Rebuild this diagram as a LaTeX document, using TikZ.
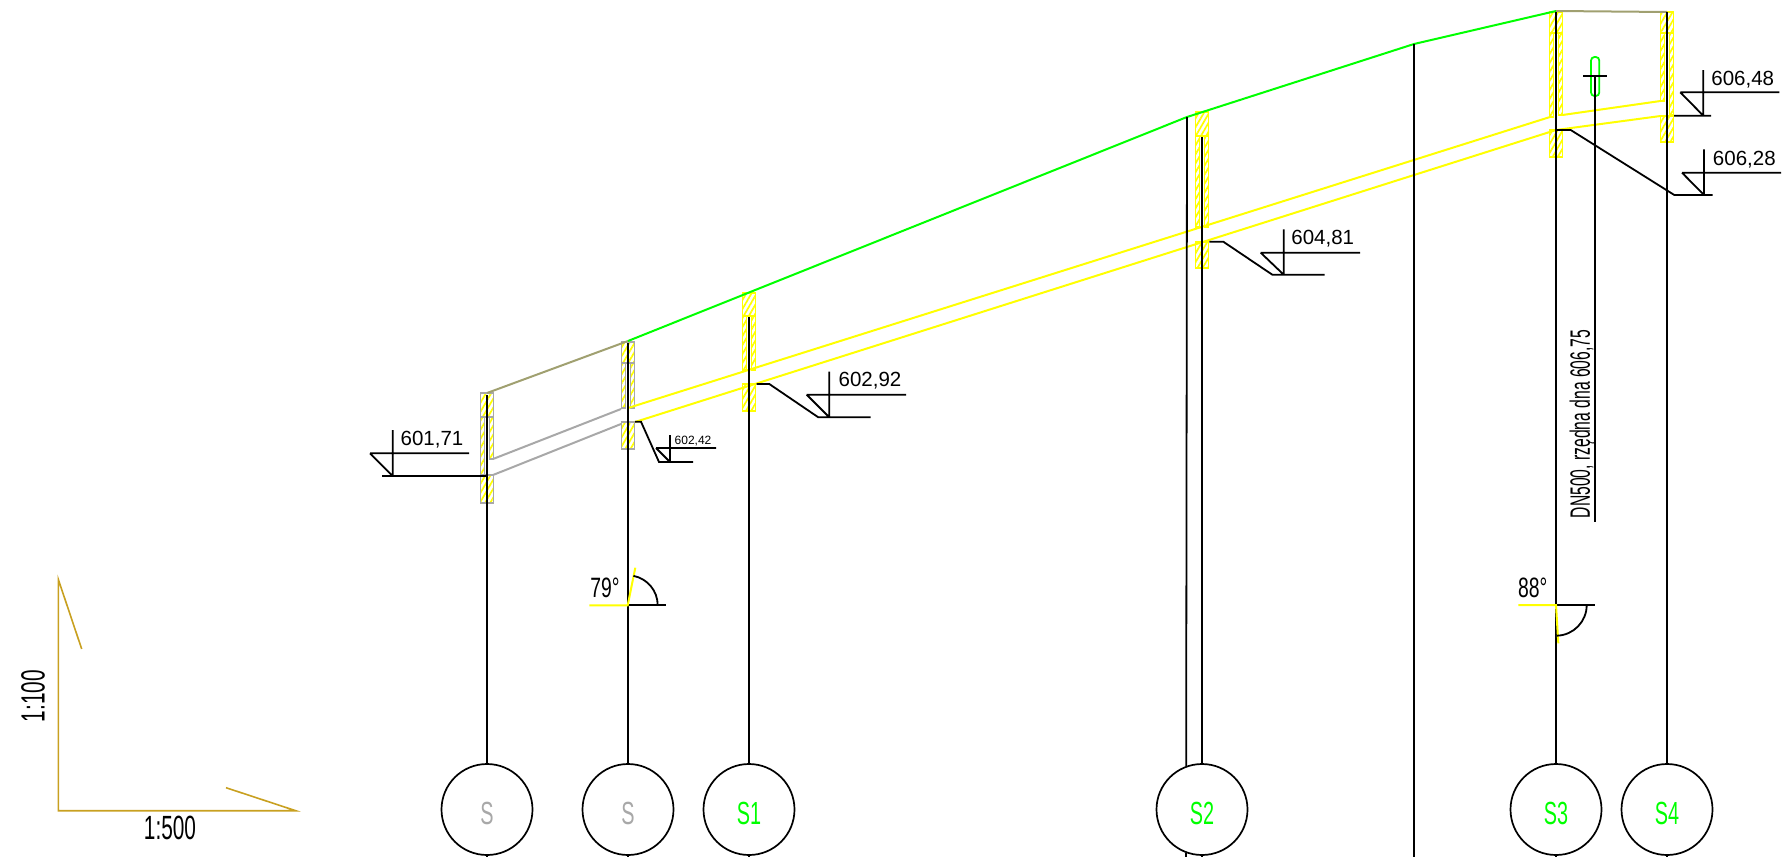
\documentclass[tikz,border=0pt]{standalone}
\usepackage{fontspec}
\setmainfont{Liberation Sans}
\usetikzlibrary{patterns.meta}
\definecolor{wellyellow}{RGB}{255,255,0}
\definecolor{wellgreen}{RGB}{0,255,0}
\definecolor{wellgray}{RGB}{168,168,168}
\definecolor{topolive}{RGB}{160,160,112}
\definecolor{axisgold}{RGB}{200,160,32}
\tikzset{hatch/.style={line width=1.8pt,pattern={Lines[angle=60,distance=4.5pt,line width=1.7pt]},pattern color=wellyellow},
         pipe/.style={line width=2pt},
         blk/.style={line width=1.8pt,black},
         welllabel/.style={draw=black,line width=1.7pt,circle,inner sep=0pt,minimum size=91pt},
         level/.style={font=\fontsize{20.5}{24}\selectfont,inner sep=0pt,text depth=0pt},
         tall/.style={font=\fontsize{#1}{#1}\selectfont,inner sep=0pt,text depth=0pt}}
% x top hatch-end left-end right-end low-top low-bottom colour
\newcommand{\wellcol}[8]{
  \draw[hatch,draw=#8] ({#1-6.5},#2) rectangle ({#1+6.5},#3);
  \draw[hatch,draw=#8] ({#1-6.5},#3) rectangle ({#1-2.5},#4);
  \draw[hatch,draw=#8] ({#1+2.5},#3) rectangle ({#1+6.5},#5);
  \draw[hatch,draw=#8] ({#1-6.5},#6) rectangle ({#1+6.5},#7);
}
\begin{document}
\begin{tikzpicture}[x=1pt,y=-1pt]
\useasboundingbox (0,0) rectangle (1783,857);
% columns
\wellcol{487}{393}{417}{475}{459}{475}{503}{wellgray}
\wellcol{628}{342}{363}{408}{408}{422}{449}{wellgray}
\wellcol{749}{293}{316}{370}{370}{384}{411}{wellyellow}
\wellcol{1202}{112}{136}{227}{227}{242}{268}{wellyellow}
\wellcol{1556}{12}{33}{117}{115}{130}{157}{wellyellow}
\wellcol{1667}{12}{33}{101}{115}{116}{142}{wellyellow}
% sewer
\draw[pipe,wellgray] (493,459) -- (621,409) (493,475) -- (621,424);
\draw[pipe,wellyellow] (628,408) -- (1550,117) (1562.5,115) -- (1660.5,101);
\draw[pipe,wellyellow] (635,422) -- (1556,130) -- (1660.5,116);
% terrain
\draw[pipe,topolive] (487,393) -- (628,341);
\draw[pipe,wellgreen] (628,341) -- (1187,117) -- (1414,44) -- (1556,11);
\draw[pipe,topolive] (1556,11) -- (1667,12);
% wells
\foreach \cname/\cx/\ctext/\ccol in {a/487/S/wellgray,b/628/S/wellgray,c/749/S1/wellgreen,d/1202/S2/wellgreen,e/1556/S3/wellgreen,f/1667/S4/wellgreen}{
  \node[welllabel] (\cname) at (\cx,809.5) {};
  \node[tall=32,\ccol] (t\cname) at (\cx,813) {\scalebox{.62}[1]{\ctext}};
}
\coordinate (atop) at (487,395);
\coordinate (btop) at (628,343);
\coordinate (ctop) at (749,317);
\coordinate (dtop) at (1202,137);
\coordinate (etop) at (1556,12);
\coordinate (ftop) at (1667,12);
\foreach \cname in {a,b,c,d,e,f}{
  \draw[blk] (\cname top) -- (\cname.north);
  \draw[blk] (\cname.south) -- (\cname.south |- 0,857);
}
\draw[blk] (1187,117) -- (d.110);
\draw[blk] (d.250) -- (d.250 |- 0,857);
\draw[line width=2.2pt] (1414,44) -- (1414,857);
% manhole
\draw[wellgreen,line width=1.8pt,rounded corners=3.5pt] (1591,57) rectangle (1599.3,96);
\draw[blk] (1583,76) -- (1607,76) (1595,76) -- (1595,522);
\node[tall=28,rotate=90,anchor=south] (dn) at (1590,424) {\scalebox{.56}[1]{DN500, rzędna dna 606,75}};
% levels
\draw[blk] (370,453.3) -- (392.7,476) (392.7,430) -- (392.7,476) (370,453.3) -- (469,453.3) (382,476) -- (487,476);
\node[level] (l1) at (432,438) {601,71};
\draw[blk] (635,421.7) -- (641,421.7) -- (659,462) -- (693,462) (670,435) -- (670,462) (656,448) -- (670,462) (656,448) -- (716,448);
\node[level,font=\fontsize{12}{14}\selectfont] (l2) at (693,440) {602,42};
\draw[blk] (756.7,384) -- (769.3,384) -- (818.3,417.3) -- (870.7,417.3) (829.3,371.7) -- (829.3,417.3) (806.7,394.7) -- (829.3,417.3) (806.7,394.7) -- (906,394.7);
\node[level] (l3) at (870,379) {602,92};
\draw[blk] (1209.3,241.7) -- (1223.3,241.7) -- (1272.3,274.7) -- (1324.7,274.7) (1283.7,229.3) -- (1283.7,274.7) (1260.7,252.7) -- (1283.7,274.7) (1260.7,252.7) -- (1360,252.7);
\node[level] (l4) at (1322.7,237.7) {604,81};
\draw[blk] (1674,115.7) -- (1711,115.7) (1703.3,70) -- (1703.3,115.7) (1680.3,92.3) -- (1703.3,115.7) (1680.3,92.3) -- (1779.3,92.3);
\node[level] (l5) at (1742.7,78) {606,48};
\draw[blk] (1556,130) -- (1570.7,130) -- (1674.3,195) -- (1712.7,195) (1704,149.3) -- (1704,195) (1682,172.7) -- (1704,195) (1682,172.7) -- (1781,172.7);
\node[level] (l6) at (1744.3,158) {606,28};
% angles
\draw[blk] (627.7,605.3) -- (666,605.3);
\draw[pipe,wellyellow] (589.3,605.3) -- (627.7,605.3) -- (635.3,567.7);
\draw[blk] (657.7,605.3) arc[start angle=0,end angle=-79,radius=30];
\node[tall=28] (a1) at (605,588) {\scalebox{.69}[1]{79°}};
\draw[blk] (1556,605) -- (1595,605);
\draw[pipe,wellyellow] (1518.3,605) -- (1556,605) -- (1558.3,643.3);
\draw[blk] (1586.7,605) arc[start angle=0,end angle=88,radius=30.7];
\node[tall=28] (a2) at (1532.7,588) {\scalebox{.69}[1]{88°}};
% scale
\draw[axisgold,line width=1.6pt] (81.7,649) -- (58.3,579.3) -- (58.3,810.7) -- (295.7,810.7) -- (226,787.7);
\node[tall=33.6] (sx) at (170,827.7) {\scalebox{.62}[1]{1:500}};
\node[tall=33.6,rotate=90] (sy) at (33,696) {\scalebox{.62}[1]{1:100}};
\end{tikzpicture}
\end{document}
